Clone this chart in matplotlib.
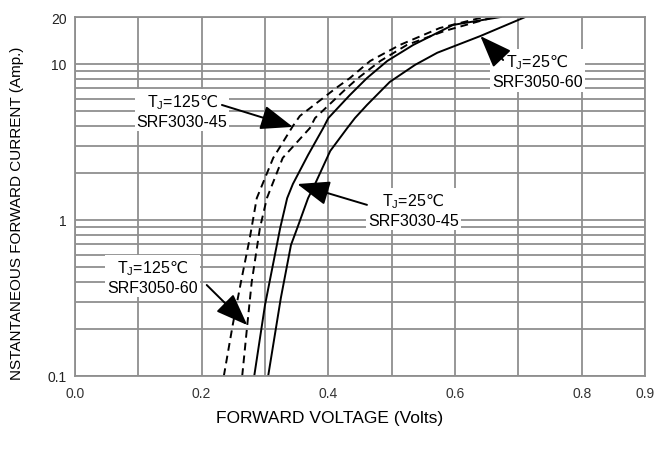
import matplotlib
matplotlib.use("Agg")
import matplotlib.pyplot as plt
from matplotlib.ticker import FixedLocator, FixedFormatter, NullFormatter

plt.rcParams['font.family'] = ['Liberation Sans', 'DejaVu Sans']
plt.rcParams['mathtext.fontset'] = 'custom'
plt.rcParams['mathtext.rm'] = 'Noto Sans CJK SC'

# ---- data ----
# TJ=125C SRF3030-45 (dashed, left)
v_125_3030 = [0.235, 0.249, 0.262, 0.276, 0.287, 0.313, 0.344, 0.355, 0.392, 0.412, 0.434, 0.466, 0.513, 0.576, 0.646]
i_125_3030 = [0.1, 0.212, 0.40, 0.767, 1.38, 2.50, 4.00, 4.64, 6.06, 7.0, 8.12, 10.45, 13.24, 17.0, 20.0]
# TJ=125C SRF3050-60 (dashed, right)
v_125_3050 = [0.264, 0.272, 0.279, 0.292, 0.303, 0.328, 0.371, 0.379, 0.429, 0.447, 0.482, 0.524, 0.584, 0.662]
i_125_3050 = [0.1, 0.212, 0.40, 0.889, 1.38, 2.50, 3.89, 4.50, 7.0, 8.12, 10.45, 13.24, 16.3, 20.0]
# TJ=25C SRF3030-45 (solid, left)
v_25_3030 = [0.283, 0.300, 0.324, 0.335, 0.344, 0.368, 0.392, 0.400, 0.434, 0.461, 0.493, 0.534, 0.597, 0.672]
i_25_3030 = [0.1, 0.285, 0.889, 1.38, 1.70, 2.61, 3.89, 4.50, 6.32, 8.12, 10.45, 13.24, 17.8, 20.0]
# TJ=25C SRF3050-60 (solid, right)
v_25_3050 = [0.305, 0.325, 0.341, 0.351, 0.368, 0.379, 0.403, 0.430, 0.442, 0.461, 0.497, 0.537, 0.572, 0.640, 0.711]
i_25_3050 = [0.1, 0.316, 0.691, 0.889, 1.38, 1.70, 2.77, 3.89, 4.50, 5.46, 7.67, 9.87, 11.8, 15.1, 20.0]

x_ticks = [0.0, 0.1, 0.2, 0.3, 0.4, 0.5, 0.6, 0.7, 0.8, 0.9]
x_labels = ["0.0", "", "0.2", "", "0.4", "", "0.6", "", "0.8", "0.9"]
y_ticks = [0.1, 1, 10, 20]
y_labels = ["0.1", "1", "10", "20"]
y_minor = [0.2, 0.3, 0.4, 0.5, 0.6, 0.7, 0.8, 0.9, 2, 3, 4, 5, 6, 7, 8, 9]

deg = r"$\mathrm{℃}$"
labels = [
    (r"T$_\mathregular{J}$=125" + deg + "\nSRF3030-45", (0.169, 5.0), (0.232, 5.46), (0.344, 3.95)),
    (r"T$_\mathregular{J}$=125" + deg + "\nSRF3050-60", (0.122, 0.431), (0.208, 0.383), (0.272, 0.212)),
    (r"T$_\mathregular{J}$=25" + deg + "\nSRF3030-45", (0.534, 1.16), (0.461, 1.25), (0.351, 1.70)),
    (r"T$_\mathregular{J}$=25" + deg + "\nSRF3050-60", (0.730, 9.0), (0.676, 10.6), (0.640, 15.1)),
]

grid_c = '#8f8f8f'

fig = plt.figure(figsize=(6.55, 4.52), dpi=100)
ax = fig.add_axes([75/655, 1-377/452, 570/655, 359/452])
ax.set_yscale('log')
ax.set_xlim(0, 0.9)
ax.set_ylim(0.1, 20)

ax.xaxis.set_major_locator(FixedLocator(x_ticks))
ax.xaxis.set_major_formatter(FixedFormatter(x_labels))
ax.yaxis.set_major_locator(FixedLocator(y_ticks))
ax.yaxis.set_major_formatter(FixedFormatter(y_labels))
ax.yaxis.set_minor_locator(FixedLocator(y_minor))
ax.yaxis.set_minor_formatter(NullFormatter())
ax.tick_params(which='both', length=0)
ax.tick_params(axis='x', labelsize=10, pad=7, labelcolor='#333333')
ax.tick_params(axis='y', labelsize=10, pad=6, labelcolor='#222222')
ax.grid(True, which='both', color=grid_c, lw=1.3)
ax.set_axisbelow(True)
for s in ax.spines.values():
    s.set_color(grid_c)
    s.set_linewidth(1.3)

dash = (0, (4, 2.6))
ax.plot(v_125_3030, i_125_3030, color='black', lw=1.4, ls=dash)
ax.plot(v_125_3050, i_125_3050, color='black', lw=1.4, ls=dash)
ax.plot(v_25_3030, i_25_3030, color='black', lw=1.4)
ax.plot(v_25_3050, i_25_3050, color='black', lw=1.4)

for txt, tpos, tail, tip in labels:
    ax.text(tpos[0], tpos[1], txt, ha='center', va='center', fontsize=11.5,
            linespacing=1.25,
            bbox=dict(facecolor='white', edgecolor='none', pad=1.5), zorder=5)
    ax.annotate('', xy=tip, xytext=tail,
                arrowprops=dict(arrowstyle='-|>,head_length=1.0,head_width=0.38',
                                color='black', lw=1.4, mutation_scale=20,
                                shrinkA=0, shrinkB=0), zorder=6)

fig.text(17/655, 1-213/452, "NSTANTANEOUS FORWARD CURRENT (Amp.)", rotation=90,
         ha='center', va='center', fontsize=11)
fig.text(330/655, 1-419/452, "FORWARD VOLTAGE (Volts)", ha='center', va='center',
         fontsize=12.5)

fig.savefig("out.png", dpi=100)
